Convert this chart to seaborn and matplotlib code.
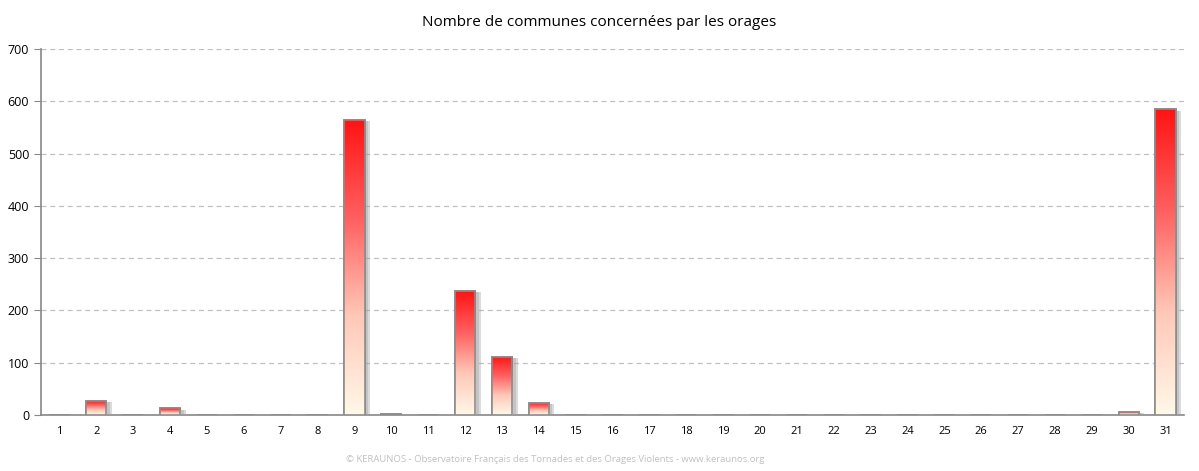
import numpy as np
import pandas as pd
import matplotlib
matplotlib.use("Agg")
import matplotlib.pyplot as plt
import matplotlib.patheffects as pe
from matplotlib.colors import LinearSegmentedColormap
import seaborn as sns

# Données
jours = [str(j) for j in range(1, 32)]
communes = [0, 27, 0, 13, 0, 0, 0, 0, 564, 2, 0, 237, 111, 23, 0, 0, 0, 0, 0, 0,
            0, 0, 0, 0, 0, 0, 0, 0, 0, 6, 585]
y_ticks = [0, 100, 200, 300, 400, 500, 600, 700]

titre = "Nombre de communes concernées par les orages"
pied = "© KERAUNOS - Observatoire Français des Tornades et des Orages Violents - www.keraunos.org"

df = pd.DataFrame({"jour": jours, "communes": communes})

sns.set_style("white")
plt.rcParams['font.family'] = ['Open Sans', 'DejaVu Sans']

fig = plt.figure(figsize=(11.99, 4.71), dpi=100)
ax = fig.add_axes([0.0342, 0.1189, 0.9533, 0.7771])

sns.barplot(data=df, x="jour", y="communes", color="white", width=0.55,
            edgecolor="#8c8c8c", linewidth=1.2, ax=ax, zorder=3)

# dégradé rouge -> crème dans chaque barre
cmap = LinearSegmentedColormap.from_list("orage", ["#fff8e8", "#ffc8b8", "#ff6060", "#ff1414"])
grad = np.linspace(0, 1, 256).reshape(-1, 1)
for p in ax.patches:
    h = p.get_height()
    if h <= 0:
        continue
    x0, w = p.get_x(), p.get_width()
    # ombre douce à droite
    p.set_path_effects([pe.SimplePatchShadow(offset=(4, -1), shadow_rgbFace="#9a9a9a", alpha=0.35),
                        pe.SimplePatchShadow(offset=(2.5, -1), shadow_rgbFace="#9a9a9a", alpha=0.35),
                        pe.Normal()])
    im = ax.imshow(grad, cmap=cmap, aspect="auto", origin="lower",
                   extent=(x0, x0 + w, 0, h), zorder=3.5)
    im.set_clip_path(p)
    # contour par dessus le dégradé
    ax.add_patch(plt.Rectangle((x0, 0), w, h, fill=False, edgecolor="#8c8c8c",
                               linewidth=1.2, zorder=4))

ax.set_xlim(-0.5, len(jours) - 0.5)
ax.set_ylim(0, 700)
ax.set_yticks(y_ticks)
ax.yaxis.grid(True, linestyle=(0, (4, 3)), color="#c0c0c0", linewidth=0.9, zorder=0)
ax.set_axisbelow(True)

for s in ["top", "right"]:
    ax.spines[s].set_visible(False)
for s in ["left", "bottom"]:
    ax.spines[s].set_color("#888888")
    ax.spines[s].set_linewidth(1.2)

# graduations entre les catégories
ax.set_xticks(np.arange(-0.5, len(jours)), minor=True)
ax.tick_params(axis="x", which="minor", length=5, color="#888888", width=1, direction="out")
ax.tick_params(axis="x", which="major", length=0, labelsize=8, pad=8, labelcolor="black")
ax.tick_params(axis="y", length=5, color="#888888", labelsize=9, direction="out", left=True,
               labelcolor="black")

ax.set_xlabel("")
ax.set_ylabel("")

fig.text(0.5, 0.953, titre, ha="center", va="center", fontsize=11, color="black")
fig.text(0.463, 0.025, pied, ha="center", va="center", fontsize=6.8, color="#c0c0c0")

fig.savefig("out.png", dpi=100)
